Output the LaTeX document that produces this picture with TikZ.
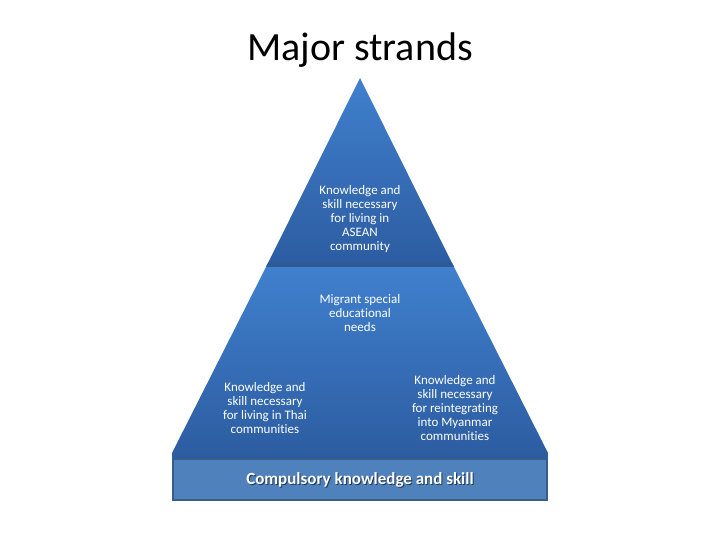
\documentclass[tikz,border=0pt]{standalone}
\usepackage{fontspec}
\setmainfont{Carlito}[Ligatures=NoCommon]
\usetikzlibrary{positioning}
\definecolor{pyrlight}{RGB}{64,128,206}
\definecolor{pyrdark}{RGB}{44,92,160}
\definecolor{pyrband}{RGB}{46,90,150}
\definecolor{baseblue}{RGB}{79,129,189}
\definecolor{baseedge}{RGB}{56,93,138}
\tikzset{
  tier/.style={top color=pyrlight,bottom color=pyrdark},
  strand/.style={text=white,align=center,font=\fontsize{13}{14}\selectfont,inner sep=0pt},
  basetext/.style={font=\fontsize{17}{19}\selectfont\bfseries,inner sep=0pt},
}
\begin{document}
\begin{tikzpicture}[x=1pt,y=-1pt]
  \useasboundingbox (0,0) rectangle (720,540);

  % title
  \node[font=\fontsize{40}{44}\selectfont] (title) at (360,50) {Major strands};

  % pyramid outline points
  \coordinate (apex) at (360,78);
  \coordinate (midL) at (266,267);
  \coordinate (midR) at (454,267);
  \coordinate (botL) at (172,453);
  \coordinate (botR) at (548,453);

  % top tier
  \shade[tier] (apex) -- (midR) -- (midL) -- cycle;
  \fill[pyrband] (268.5,262) -- (451.5,262) -- (midR) -- (midL) -- cycle;

  % middle tier
  \shade[tier] (midL) -- (midR) -- (botR) -- (548,458) -- (172,458) -- (botL) -- cycle;

  % base
  \fill[baseblue,draw=baseedge,line width=2pt] (173,459) rectangle (547,500);

  % texts
  \node[strand] (asean) at (360,219)
    {Knowledge and\\skill necessary\\for living in\\ASEAN\\community};
  \node[strand] (migrant) at (360,313)
    {Migrant special\\educational\\needs};
  \node[strand] (thai) at (265,408)
    {Knowledge and\\skill necessary\\for living in Thai\\communities};
  \node[strand] (myanmar) at (455,408)
    {Knowledge and\\skill necessary\\for reintegrating\\into Myanmar\\communities};
  \node[basetext,text=baseedge!60!black] at (361,481) {Compulsory knowledge and skill};
  \node[basetext,text=white] (base) at (360,480) {Compulsory knowledge and skill};
\end{tikzpicture}
\end{document}
